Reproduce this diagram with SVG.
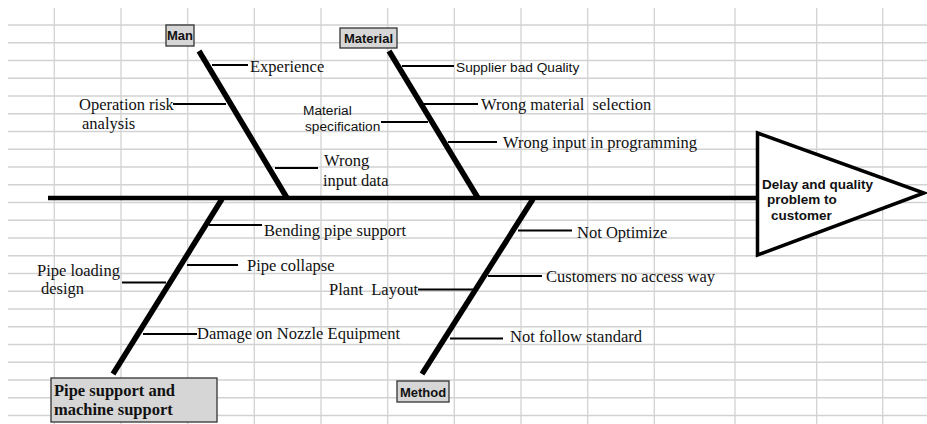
<svg xmlns="http://www.w3.org/2000/svg" width="927" height="424" viewBox="0 0 927 424">
<style>
.grid line{stroke:#d2d2d2;stroke-width:1.3}
.bone{stroke:#000;stroke-width:5.5;fill:none}
.sub{stroke:#000;stroke-width:2;fill:none}
.serif{font-family:"Liberation Serif","Times New Roman",serif;font-size:16.5px;fill:#111}
.sans{font-family:"Liberation Sans",Arial,sans-serif;font-size:13.7px;fill:#111}
.cat{fill:#d6d6d6;stroke:#333;stroke-width:1.3}
.catt{font-family:"Liberation Sans",Arial,sans-serif;font-weight:bold;font-size:13px;fill:#111}
</style>
<rect width="927" height="424" fill="#fff"/>
<g class="grid" id="grid">
<line x1="54.3" y1="8" x2="54.3" y2="424"/>
<line x1="121" y1="8" x2="121" y2="424"/>
<line x1="187.7" y1="8" x2="187.7" y2="424"/>
<line x1="254.3" y1="8" x2="254.3" y2="424"/>
<line x1="321" y1="8" x2="321" y2="424"/>
<line x1="387.7" y1="8" x2="387.7" y2="424"/>
<line x1="454.3" y1="8" x2="454.3" y2="424"/>
<line x1="521" y1="8" x2="521" y2="424"/>
<line x1="587.7" y1="8" x2="587.7" y2="424"/>
<line x1="654.3" y1="8" x2="654.3" y2="424"/>
<line x1="735" y1="8" x2="735" y2="424"/>
<line x1="816.7" y1="8" x2="816.7" y2="424"/>
<line x1="882.7" y1="8" x2="882.7" y2="424"/>
<line x1="8" y1="25" x2="927" y2="25"/>
<line x1="8" y1="42.75" x2="927" y2="42.75"/>
<line x1="8" y1="60.5" x2="927" y2="60.5"/>
<line x1="8" y1="78.25" x2="927" y2="78.25"/>
<line x1="8" y1="96" x2="927" y2="96"/>
<line x1="8" y1="113.75" x2="927" y2="113.75"/>
<line x1="8" y1="131.5" x2="927" y2="131.5"/>
<line x1="8" y1="149.25" x2="927" y2="149.25"/>
<line x1="8" y1="167" x2="927" y2="167"/>
<line x1="8" y1="184.75" x2="927" y2="184.75"/>
<line x1="8" y1="202.5" x2="927" y2="202.5"/>
<line x1="8" y1="220.25" x2="927" y2="220.25"/>
<line x1="8" y1="238" x2="927" y2="238"/>
<line x1="8" y1="255.75" x2="927" y2="255.75"/>
<line x1="8" y1="273.5" x2="927" y2="273.5"/>
<line x1="8" y1="291.25" x2="927" y2="291.25"/>
<line x1="8" y1="309" x2="927" y2="309"/>
<line x1="8" y1="326.75" x2="927" y2="326.75"/>
<line x1="8" y1="344.5" x2="927" y2="344.5"/>
<line x1="8" y1="362.25" x2="927" y2="362.25"/>
<line x1="8" y1="380" x2="927" y2="380"/>
<line x1="8" y1="397.75" x2="927" y2="397.75"/>
<line x1="8" y1="415.5" x2="927" y2="415.5"/>
</g>
<g id="connectors">
<line x1="48" y1="198" x2="757" y2="198" stroke="#000" stroke-width="4.5"/>
<line class="bone" x1="199" y1="51" x2="287" y2="198"/>
<line class="bone" x1="389" y1="51" x2="478" y2="198"/>
<line class="bone" x1="222" y1="199" x2="113" y2="374"/>
<line class="bone" x1="533" y1="199" x2="422" y2="374"/>
<line class="sub" x1="212" y1="65" x2="248" y2="65"/>
<line class="sub" x1="173" y1="104" x2="226" y2="104"/>
<line class="sub" x1="275" y1="168" x2="318" y2="168"/>
<line class="sub" x1="402" y1="66" x2="454" y2="66"/>
<line class="sub" x1="423" y1="104" x2="478" y2="104"/>
<line class="sub" x1="381" y1="122" x2="428" y2="122"/>
<line class="sub" x1="448" y1="142" x2="497" y2="142"/>
<line class="sub" x1="209" y1="225" x2="262" y2="225"/>
<line class="sub" x1="187" y1="265" x2="238" y2="265"/>
<line class="sub" x1="122" y1="282.5" x2="166" y2="282.5"/>
<line class="sub" x1="143" y1="334" x2="197" y2="334"/>
<line class="sub" x1="518" y1="230.5" x2="572" y2="230.5"/>
<line class="sub" x1="488" y1="276" x2="542" y2="276"/>
<line class="sub" x1="418" y1="289.5" x2="475" y2="289.5"/>
<line class="sub" x1="450" y1="338.5" x2="503" y2="338.5"/>
</g>
<g id="head">
<polygon points="757.5,133 924,193 757.5,255" fill="#fff" stroke="#000" stroke-width="3.5" stroke-linejoin="miter"/>
<text font-family="'Liberation Sans',Arial,sans-serif" font-weight="bold" font-size="13.5px" fill="#111"><tspan x="762" y="189">Delay and quality</tspan><tspan x="767" y="204">problem to</tspan><tspan x="771" y="220">customer</tspan></text>
</g>
<g id="man">
<rect class="cat" x="166" y="25" width="28" height="21"/>
<text class="catt" x="180" y="40" text-anchor="middle" font-size="12px">Man</text>
</g>
<g id="material">
<rect class="cat" x="340" y="28" width="57" height="20"/>
<text class="catt" x="368.5" y="43" text-anchor="middle">Material</text>
</g>
<g id="pipe-support">
<rect class="cat" x="51" y="378" width="166" height="44"/>
<text font-family="'Liberation Serif','Times New Roman',serif" font-weight="bold" font-size="16.5px" fill="#111"><tspan x="54" y="396">Pipe support and</tspan><tspan x="54" y="415">machine support</tspan></text>
</g>
<g id="method">
<rect class="cat" x="397" y="381" width="52" height="21"/>
<text class="catt" x="423" y="396.5" text-anchor="middle">Method</text>
</g>
<g id="labels">
<text class="serif" x="250" y="71.5">Experience</text>
<text class="serif"><tspan x="79" y="110">Operation risk</tspan><tspan x="82" y="129">analysis</tspan></text>
<text class="serif"><tspan x="324" y="166">Wrong</tspan><tspan x="323" y="185.5">input data</tspan></text>
<text class="sans" x="456" y="71.5">Supplier bad Quality</text>
<text class="serif" x="481" y="109.5" xml:space="preserve">Wrong material  selection</text>
<text class="sans" font-size="13px"><tspan x="303" y="114.5">Material</tspan><tspan x="305" y="131">specification</tspan></text>
<text class="serif" x="503" y="147.5">Wrong input in programming</text>
<text class="serif" x="264" y="235.5">Bending pipe support</text>
<text class="serif" x="247" y="270.5">Pipe collapse</text>
<text class="serif"><tspan x="37" y="275.5">Pipe loading</tspan><tspan x="41" y="294">design</tspan></text>
<text class="serif" x="197" y="339">Damage on Nozzle Equipment</text>
<text class="serif" x="577" y="238">Not Optimize</text>
<text class="serif" x="546" y="281.5">Customers no access way</text>
<text class="serif" x="418" y="295" text-anchor="end" xml:space="preserve">Plant  Layout</text>
<text class="serif" x="510" y="341.5">Not follow standard</text>
</g>
</svg>
